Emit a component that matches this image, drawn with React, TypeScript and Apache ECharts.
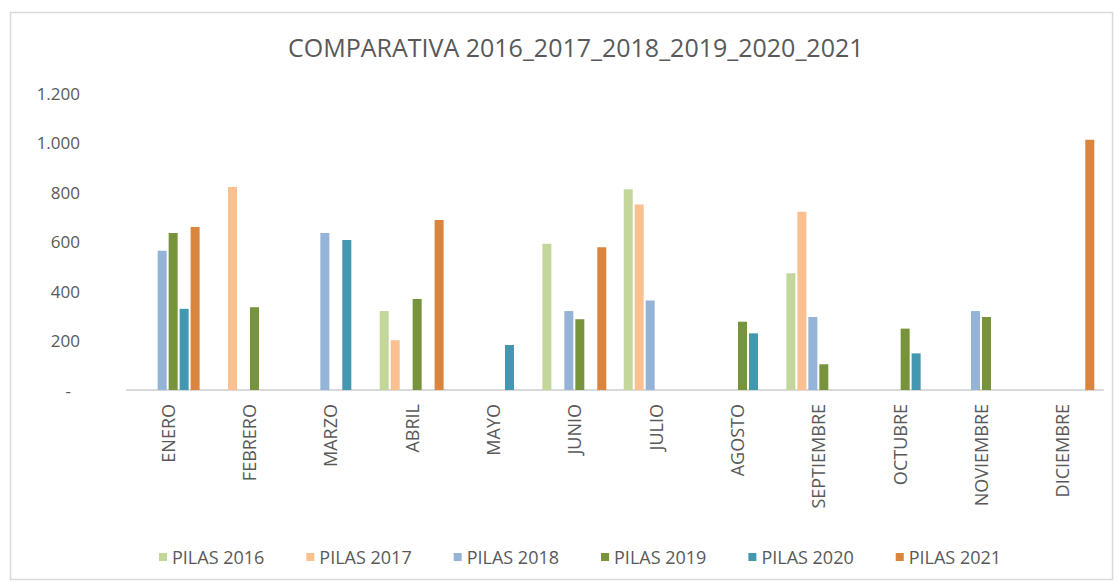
import React, { useEffect, useRef } from "react";
import * as echarts from "echarts";

const months = ["ENERO", "FEBRERO", "MARZO", "ABRIL", "MAYO", "JUNIO", "JULIO", "AGOSTO", "SEPTIEMBRE", "OCTUBRE", "NOVIEMBRE", "DICIEMBRE"];
const seriesNames = ["PILAS 2016", "PILAS 2017", "PILAS 2018", "PILAS 2019", "PILAS 2020", "PILAS 2021"];
const pilas2016 = [null, null, null, 319, null, 591, 811, null, 472, null, null, null];
const pilas2017 = [null, 820, null, 201, null, null, 749, null, 720, null, null, null];
const pilas2018 = [563, null, 634, null, null, 319, 362, null, 295, null, 319, null];
const pilas2019 = [634, 334, null, 368, null, 286, null, 276, 104, 248, 295, null];
const pilas2020 = [328, null, 606, null, 182, null, null, 229, null, 148, null, null];
const pilas2021 = [659, null, null, 687, null, 577, null, null, null, null, null, 1011];
const yTicks = [0, 200, 400, 600, 800, 1000, 1200];
const colors = ["#C4D79B", "#FAC090", "#95B3D7", "#77933C", "#4397B0", "#DA843E"];

const allSeries = [pilas2016, pilas2017, pilas2018, pilas2019, pilas2020, pilas2021];
const FONT = "'Open Sans', sans-serif";
const TXT = "#595959";

export default function App() {
  const ref = useRef<HTMLDivElement>(null);
  useEffect(() => {
    if (!ref.current) return;
    const chart = echarts.init(ref.current, null, { renderer: "svg" });
    chart.setOption({
      animation: false,
      backgroundColor: "#fff",
      title: {
        text: "COMPARATIVA 2016_2017_2018_2019_2020_2021",
        left: 283,
        top: 29,
        textStyle: { fontFamily: FONT, fontSize: 25, fontWeight: "normal", color: TXT },
      },
      graphic: [
        {
          type: "rect",
          shape: { x: 10.5, y: 12.5, width: 1102, height: 567 },
          style: { fill: "none", stroke: "#d9d9d9", lineWidth: 1.5 },
          silent: true,
          z: -1,
        },
      ],
      legend: {
        data: seriesNames,
        left: 154,
        top: 543,
        icon: "rect",
        itemWidth: 8,
        itemHeight: 8,
        itemGap: 42,
        textStyle: { fontFamily: FONT, fontSize: 18, color: TXT },
      },
      grid: { left: 127, right: 16, top: 93, bottom: 193, containLabel: false },
      xAxis: {
        type: "category",
        data: months,
        axisLine: { show: true, lineStyle: { color: "#d9d9d9", width: 2 } },
        axisTick: { show: false },
        axisLabel: { rotate: 90, margin: 14, fontFamily: FONT, fontSize: 18, color: TXT, interval: 0 },
      },
      yAxis: {
        type: "value",
        min: yTicks[0],
        max: yTicks[yTicks.length - 1],
        interval: 200,
        splitLine: { show: false },
        axisLine: { show: false },
        axisTick: { show: false },
        axisLabel: {
          margin: 47,
          fontFamily: FONT,
          fontSize: 17,
          color: TXT,
          formatter: (v: number) => {
            if (v === 0) return "{z|-}";
            return v.toString().replace(/\B(?=(\d{3})+(?!\d))/g, ".");
          },
          rich: { z: { padding: [0, 9, 0, 0], fontFamily: FONT, fontSize: 17, color: TXT } },
        },
      },
      series: allSeries.map((d, i) => ({
        name: seriesNames[i],
        type: "bar",
        data: d,
        barWidth: 9,
        barGap: "22%",
        itemStyle: { color: colors[i] },
      })),
    });
    return () => chart.dispose();
  }, []);
  return <div ref={ref} style={{ position: "fixed", left: 0, top: 0, width: 1119, height: 583 }} />;
}
